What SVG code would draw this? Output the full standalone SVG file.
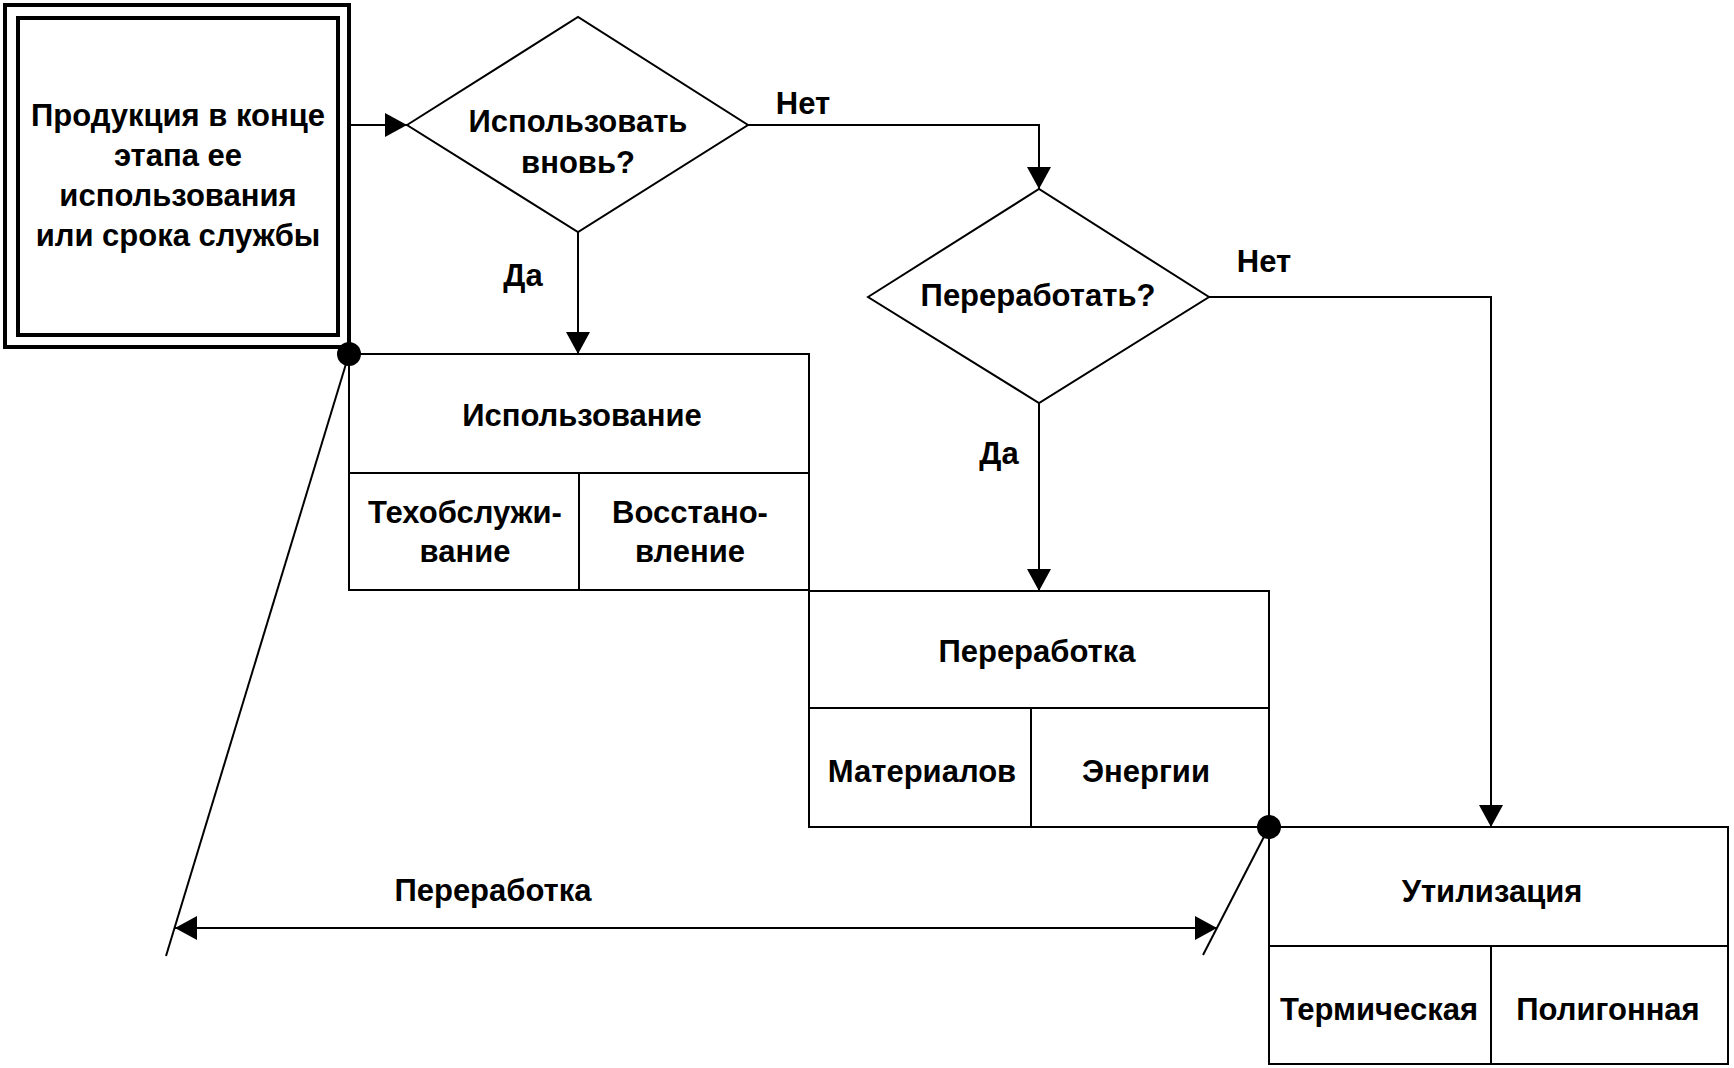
<svg xmlns="http://www.w3.org/2000/svg" width="1734" height="1068" viewBox="0 0 1734 1068">
<style>
.ln{fill:none;stroke:#000;stroke-width:2}
.bx{fill:#fff;stroke:#000;stroke-width:2}
.dbl{fill:none;stroke:#000;stroke-width:4}
.dot{fill:#000}
text{font-family:"Liberation Sans",Arial,sans-serif;font-size:31px;font-weight:bold;fill:#000;text-anchor:middle}
</style>
<defs>
<marker id="ah" viewBox="0 0 22 24" refX="22" refY="12" markerWidth="22" markerHeight="24" markerUnits="userSpaceOnUse" orient="auto-start-reverse">
<path d="M0,0 L22,12 L0,24 Z" fill="#000"/>
</marker>
</defs>
<rect width="1734" height="1068" fill="#fff"/>
<g id="start">
<rect class="dbl" x="5" y="5" width="344" height="342"/>
<rect class="dbl" x="18" y="18" width="320" height="317"/>
<text x="178" y="126">Продукция в конце</text>
<text x="178" y="166">этапа ее</text>
<text x="178" y="206">использования</text>
<text x="178" y="246">или срока службы</text>
</g>
<g id="decision-reuse">
<polygon class="bx" points="407,125 578,17 748,125 578,232"/>
<text x="578" y="132">Использовать</text>
<text x="578" y="173">вновь?</text>
</g>
<g id="decision-recycle">
<polygon class="bx" points="868,297 1039,189 1209,297 1039,403"/>
<text x="1038" y="306">Переработать?</text>
</g>
<g id="use">
<rect class="bx" x="349" y="354" width="460" height="236"/>
<line class="ln" x1="349" y1="473" x2="809" y2="473"/>
<line class="ln" x1="579" y1="473" x2="579" y2="590"/>
<text x="582" y="426">Использование</text>
<text x="465" y="523">Техобслужи-</text>
<text x="465" y="562">вание</text>
<text x="690" y="523">Восстано-</text>
<text x="690" y="562">вление</text>
</g>
<g id="recycle">
<rect class="bx" x="809" y="591" width="460" height="236"/>
<line class="ln" x1="809" y1="708" x2="1269" y2="708"/>
<line class="ln" x1="1031" y1="708" x2="1031" y2="827"/>
<text x="1037" y="662">Переработка</text>
<text x="922" y="782">Материалов</text>
<text x="1146" y="782">Энергии</text>
</g>
<g id="disposal">
<rect class="bx" x="1269" y="827" width="459" height="237"/>
<line class="ln" x1="1269" y1="946" x2="1728" y2="946"/>
<line class="ln" x1="1491" y1="946" x2="1491" y2="1064"/>
<text x="1492" y="902">Утилизация</text>
<text x="1379" y="1020">Термическая</text>
<text x="1608" y="1020">Полигонная</text>
</g>
<g id="connectors">
<line class="ln" x1="349" y1="125" x2="407" y2="125" marker-end="url(#ah)"/>
<polyline class="ln" points="748,125 1039,125 1039,189" marker-end="url(#ah)"/>
<line class="ln" x1="578" y1="232" x2="578" y2="354" marker-end="url(#ah)"/>
<line class="ln" x1="1039" y1="403" x2="1039" y2="591" marker-end="url(#ah)"/>
<polyline class="ln" points="1209,297 1491,297 1491,827" marker-end="url(#ah)"/>
<line class="ln" x1="349" y1="354" x2="166" y2="956"/>
<line class="ln" x1="1269" y1="827" x2="1203" y2="955"/>
<line class="ln" x1="175" y1="928" x2="1217" y2="928" marker-start="url(#ah)" marker-end="url(#ah)"/>
<circle class="dot" cx="349" cy="354" r="12"/>
<circle class="dot" cx="1269" cy="827" r="12"/>
<text x="803" y="114">Нет</text>
<text x="523" y="286">Да</text>
<text x="999" y="464">Да</text>
<text x="1264" y="272">Нет</text>
<text x="493" y="901">Переработка</text>
</g>
</svg>
